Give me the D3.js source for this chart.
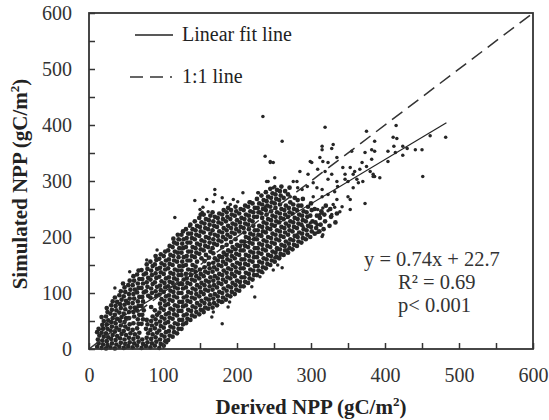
<!DOCTYPE html>
<html>
<head>
<meta charset="utf-8">
<script src="https://cdn.jsdelivr.net/npm/d3@7"></script>
<style>
  body { margin: 0; background: #fff; }
  svg text { font-family: "Liberation Serif", "Times New Roman", serif; }
</style>
</head>
<body>
<div id="chart"></div>
<script>
// axis ticks (major = labelled, every 100; minor every 50)
var tickValues = [0, 50, 100, 150, 200, 250, 300, 350, 400, 450, 500, 550, 600];
var labelValues = [0, 100, 200, 300, 400, 500, 600];

// legend + stats text
var legendLabels = ["Linear fit line", "1:1 line"];
var statsLines = ["y = 0.74x + 22.7", "R\u00b2 = 0.69", "p< 0.001"];

// fitted line and 1:1 line as drawn (end points, data units)
var fitLine = [[11, 31], [483, 404]];
var oneToOne = [[0, 0], [600, 600]];

// derived NPP (x) vs simulated NPP (y) - the dense cloud
var cloudSamples = [
  [11,4],[13,10],[12,17],[14,24],[11,30],[13,36],
  [17,2],[19,8],[18,15],[20,22],[17,29],[19,36],[18,43],[20,50],[17,57],
  [23,1],[25,7],[24,14],[26,21],[23,28],[25,36],[24,44],[26,51],[23,58],[25,66],[24,73],
  [29,3],[31,10],[30,18],[32,25],[29,33],[31,40],[30,48],[32,55],[29,63],[31,70],[30,78],[32,85],
  [35,1],[37,8],[36,16],[38,23],[35,31],[37,38],[36,46],[38,54],[35,61],[37,69],[36,77],[38,84],[35,92],
  [41,4],[43,11],[42,19],[44,27],[41,34],[43,42],[42,50],[44,57],[41,65],[43,73],[42,80],[44,88],[41,96],[43,103],
  [47,2],[49,9],[48,17],[50,25],[47,32],[49,40],[48,48],[50,55],[47,63],[49,71],[48,79],[50,86],[47,94],[49,102],[48,110],[46,117],
  [53,5],[55,12],[54,20],[56,28],[53,36],[55,44],[54,55],[54,66],[56,74],[53,82],[55,90],[54,98],[56,106],[53,114],[55,122],
  [59,3],[61,10],[60,18],[62,26],[59,34],[60,46],[61,58],[60,66],[62,74],[59,82],[61,90],[60,98],[62,106],[59,114],[61,122],[60,130],
  [65,6],[67,13],[66,21],[68,29],[65,37],[67,45],[66,53],[68,61],[65,69],[67,77],[66,85],[68,93],[65,101],[67,109],[66,117],[68,125],[65,133],[67,140],
  [71,2],[73,9],[72,17],[71,45],[73,53],[72,61],[74,69],[71,77],[73,85],[72,93],[74,101],[71,109],[73,117],[72,125],[74,133],[71,141],
  [77,5],[79,12],[78,20],[80,28],[77,36],[79,44],[78,52],[80,95],[77,103],[79,111],[78,119],[80,127],[77,135],[79,143],[78,151],
  [83,3],[85,10],[84,18],[86,26],[83,34],[85,42],[84,50],[86,58],[84,75],[83,92],[85,100],[84,108],[86,116],[83,124],[85,132],[84,140],[86,148],[83,156],
  [89,6],[91,13],[90,21],[92,29],[89,37],[91,45],[90,53],[92,61],[89,69],[91,95],[90,103],[92,111],[89,119],[91,127],[90,135],[92,143],[89,151],[91,159],[90,166],
  [95,2],[97,9],[96,17],[98,25],[95,33],[97,41],[96,49],[98,57],[95,65],[97,73],[96,81],[98,89],[95,97],[97,105],[96,113],[98,121],[95,129],[97,137],[96,145],[98,153],[95,161],[97,169],
  [101,6],[103,14],[102,22],[104,30],[101,38],[103,46],[102,54],[104,62],[101,70],[103,78],[102,86],[104,94],[101,102],[103,110],[102,118],[104,126],[101,134],[103,142],[102,150],[104,158],[101,166],[103,174],
  [107,16],[109,24],[108,32],[110,40],[107,48],[109,56],[108,64],[110,72],[107,80],[109,88],[108,96],[110,104],[107,112],[109,120],[108,128],[110,136],[107,144],[109,152],[108,160],[110,168],[107,176],[109,184],
  [113,22],[115,30],[114,38],[116,46],[113,54],[115,62],[114,70],[116,78],[113,86],[115,94],[114,102],[116,110],[113,118],[115,126],[114,134],[116,142],[113,150],[115,158],[114,166],[116,174],[113,182],[115,190],[114,197],
  [119,28],[121,36],[120,44],[122,52],[119,60],[121,68],[120,76],[122,84],[119,92],[121,100],[120,108],[122,116],[119,124],[121,132],[120,140],[122,148],[119,156],[121,164],[120,172],[122,180],[119,188],[121,196],[120,204],
  [125,36],[127,44],[126,52],[128,60],[125,68],[127,76],[126,84],[128,92],[125,100],[127,108],[126,116],[128,124],[125,132],[125,140],[127,148],[126,156],[128,164],[125,172],[127,180],[126,188],[128,196],[125,204],[127,210],
  [131,46],[133,54],[132,62],[134,70],[131,78],[133,86],[132,94],[134,102],[131,110],[133,118],[132,126],[131,134],[134,142],[131,150],[133,158],[132,166],[134,174],[131,182],[133,190],[132,198],[134,206],[131,214],
  [137,52],[139,60],[138,68],[140,76],[137,84],[139,92],[138,100],[140,108],[137,116],[139,124],[138,132],[139,141],[140,150],[137,158],[139,166],[138,174],[140,182],[137,190],[139,198],[138,206],[140,214],[137,222],
  [143,58],[145,66],[144,74],[146,82],[143,90],[145,98],[144,106],[146,114],[143,122],[145,130],[144,138],[144,147],[146,156],[143,164],[145,172],[144,180],[146,188],[143,196],[145,204],[144,212],[146,220],[143,228],
  [149,62],[151,70],[150,78],[152,86],[149,94],[151,102],[150,110],[152,118],[149,126],[151,134],[150,142],[152,162],[149,170],[151,178],[150,186],[152,194],[149,202],[151,210],[150,218],[152,226],[149,234],[151,240],
  [155,66],[157,74],[156,82],[158,90],[155,98],[157,106],[156,114],[158,122],[155,130],[157,138],[156,146],[156,157],[158,168],[155,176],[157,184],[156,192],[158,200],[155,208],[157,216],[156,224],[158,232],[155,240],
  [161,72],[163,80],[162,88],[164,96],[161,104],[163,112],[162,120],[164,128],[161,136],[163,144],[162,152],[162,163],[164,174],[161,182],[163,190],[162,198],[164,206],[161,214],[163,222],[162,230],[164,238],
  [167,74],[169,82],[168,90],[170,98],[167,106],[169,114],[168,122],[170,130],[167,138],[169,146],[168,154],[170,162],[168,171],[167,180],[169,188],[168,196],[170,204],[167,212],[169,220],[168,228],[170,236],[167,244],
  [173,78],[175,86],[174,94],[176,102],[173,110],[175,118],[174,126],[176,134],[173,142],[175,150],[174,158],[176,166],[173,186],[175,194],[174,202],[176,210],[173,218],[175,226],[174,234],[176,242],
  [179,84],[181,92],[180,100],[182,108],[179,116],[181,124],[180,132],[182,140],[179,148],[181,156],[180,164],[182,172],[180,182],[179,192],[181,200],[180,208],[182,216],[179,224],[181,232],[180,240],[182,248],
  [185,88],[187,96],[186,104],[188,112],[185,120],[187,128],[186,136],[188,144],[185,152],[187,160],[186,168],[188,176],[186,186],[185,196],[187,204],[186,212],[188,220],[185,228],[187,236],[186,244],[188,252],
  [191,94],[193,102],[192,110],[194,118],[191,126],[193,134],[192,142],[194,150],[191,158],[193,166],[192,174],[194,182],[192,191],[191,200],[193,208],[192,216],[194,224],[191,232],[193,240],[192,248],
  [197,98],[199,106],[198,114],[200,122],[197,130],[199,138],[198,146],[200,154],[197,162],[199,170],[198,178],[200,186],[198,196],[197,206],[199,214],[198,222],[200,230],[197,238],[199,246],[198,254],
  [203,104],[205,112],[204,120],[206,128],[203,136],[205,144],[204,152],[206,160],[203,168],[205,176],[204,184],[206,192],[203,210],[205,218],[204,226],[206,234],[203,242],[205,250],
  [209,112],[211,120],[210,128],[212,136],[209,144],[211,152],[210,160],[212,168],[209,176],[211,184],[210,192],[212,200],[210,208],[209,216],[211,224],[210,232],[212,240],[209,248],[211,256],
  [215,118],[217,126],[216,134],[218,142],[215,150],[217,158],[216,166],[218,174],[215,182],[217,190],[216,198],[218,206],[216,214],[215,222],[217,230],[216,238],[218,246],[215,254],[217,262],
  [221,124],[223,132],[222,140],[224,148],[221,156],[223,164],[222,172],[224,180],[221,188],[223,196],[222,204],[224,212],[222,220],[221,228],[223,236],[222,244],[224,252],[221,260],
  [227,132],[229,140],[228,148],[230,156],[227,164],[229,172],[228,180],[230,188],[227,196],[229,204],[228,212],[230,220],[227,236],[229,244],[228,252],[230,260],[227,268],
  [233,138],[235,146],[234,154],[236,162],[233,170],[235,178],[234,186],[236,194],[233,202],[235,210],[234,218],[236,226],[234,234],[233,242],[235,250],[234,258],[236,266],[233,274],
  [239,144],[241,152],[240,160],[242,168],[239,176],[241,184],[240,192],[242,200],[239,208],[241,216],[240,224],[242,232],[240,240],[239,248],[241,256],[240,264],[242,272],[239,280],
  [245,150],[247,158],[246,166],[248,174],[245,182],[247,190],[246,198],[248,206],[245,214],[247,222],[246,230],[248,238],[246,246],[245,254],[247,262],[246,270],[248,278],[245,286],
  [251,156],[253,164],[252,172],[254,180],[251,188],[253,196],[252,204],[254,212],[251,220],[253,228],[252,236],[254,244],[252,252],[251,260],[253,268],[252,276],[254,284],
  [257,162],[259,170],[258,178],[260,186],[257,194],[259,202],[258,210],[260,218],[257,226],[259,234],[258,242],[260,250],[258,258],[257,266],[259,274],[258,282],[260,290],
  [263,168],[265,176],[264,184],[266,192],[263,200],[265,208],[264,216],[266,224],[263,232],[265,240],[264,248],[266,256],[263,270],[265,282],
  [269,172],[271,180],[270,188],[272,196],[269,204],[271,212],[270,220],[272,228],[269,236],[271,244],[270,252],[272,262],[269,276],[271,288],
  [275,178],[277,186],[276,194],[278,202],[275,210],[277,218],[276,226],[278,234],[275,242],[277,250],[276,258],[278,270],
  [281,184],[283,192],[282,200],[284,208],[281,216],[283,224],[282,232],[284,240],[281,248],[283,256],[282,266],
  [287,190],[289,198],[288,206],[290,214],[287,222],[289,230],[288,238],[290,246],[287,256],[289,268],
  [293,196],[295,204],[294,212],[296,220],[293,228],[295,236],[294,244],[296,254],
  [299,200],[301,210],[300,218],[302,228],[299,238],[301,248],[300,260],
  [305,206],[307,216],[306,226],[308,238],[305,250],
  [311,210],[313,222],[312,234],[314,246],
  [317,214],[319,228],[318,240],[320,256],
  [325,220],[327,236],[326,250],
  [333,226],[335,242]
];

// scattered points around and above the cloud
var scatterSamples = [
  [35,109],[55,138],[78,159],[92,177],[116,235],[123,195],[136,219],[150,249],[159,267],
  [143,265],[154,253],[161,245],[153,244],[168,263],[170,285],[170,276],[180,270],[184,261],[195,267],
  [201,263],[218,263],[191,258],[208,279],[228,279],[242,299],[251,290],[238,344],[245,333],[220,245],
  [231,245],[238,254],[229,279],[240,299],[249,333],
  [180,45],[224,93],[231,129],[220,111],[181,84],[168,66],[166,57],[190,84],[188,75],[132,48],[105,11],
  [154,70],[204,118],[235,136],[254,165],
  [373,260],[353,249],[339,245],[328,240],[316,252],[315,243],[312,210],[316,204],[309,222],[268,177],
  [258,165],[255,150],[261,145],[335,267],[330,258],[342,254],[323,247],[309,249],[312,240],[328,237],
  [299,225],[308,222],[289,219],[309,208],[315,201],[281,204],[272,195],[265,183],[254,177],[251,163],
  [249,141],[353,267],[332,253],
  [235,415],[319,396],[261,371],[315,362],[315,356],[330,365],[328,358],[375,389],[355,353],[299,335],
  [301,333],[312,342],[316,335],[323,333],[335,342],[373,351],[382,356],[369,333],[375,326],[245,335],
  [285,317],[296,312],[309,321],[319,317],[328,312],[343,324],[353,324],[359,317],[366,321],[346,312],
  [357,312],[380,317],[384,308],[251,306],[249,288],[276,299],[281,299],[282,288],[288,285],[295,290],
  [303,297],[308,288],[315,285],[323,303],[335,299],[336,290],[346,303],[350,299],[362,303],[364,297],
  [370,299],[258,281],[265,281],[272,272],[303,272],[315,272],[323,276],[332,281],[357,288],[350,272],
  [415,399],[386,371],[386,353],[411,378],[416,376],[412,362],[424,362],[430,358],[404,353],[414,351],
  [441,356],[450,356],[424,346],[461,381],[482,378],[382,339],[404,335],[384,312],[386,308],[393,306],
  [451,308]
];

var width = 549, height = 420;

var svg = d3.select("#chart").append("svg")
    .attr("width", width)
    .attr("height", height);

var x = d3.scaleLinear().domain([0, 600]).range([89, 533]);
var y = d3.scaleLinear().domain([0, 600]).range([349, 13]);

var fmt = function (d) { return labelValues.indexOf(d) >= 0 ? d : ""; };

// points first, then lines, then frame on top
function drawPoints(data, r) {
    svg.append("g").selectAll("circle")
        .data(data)
        .enter()
        .append("circle")
        .attr("cx", function (d) { return x(d[0]); })
        .attr("cy", function (d) { return y(d[1]); })
        .attr("r", r)
        .attr("fill", "#262626");
}
drawPoints(cloudSamples, 2.35);
drawPoints(scatterSamples, 1.75);

var line = d3.line()
    .x(function (d) { return x(d[0]); })
    .y(function (d) { return y(d[1]); });

svg.append("path")
    .attr("d", line(fitLine))
    .attr("fill", "none")
    .attr("stroke", "#222")
    .attr("stroke-width", 1.2);

svg.append("path")
    .attr("d", line(oneToOne))
    .attr("fill", "none")
    .attr("stroke", "#333")
    .attr("stroke-width", 1.5)
    .attr("stroke-dasharray", "13,7");

// axes with inside ticks
var xAxis = svg.append("g")
    .attr("transform", "translate(0,349)")
    .call(d3.axisBottom(x).tickValues(tickValues).tickSizeInner(-6).tickSizeOuter(0).tickPadding(19).tickFormat(fmt));
var yAxis = svg.append("g")
    .attr("transform", "translate(89,0)")
    .call(d3.axisLeft(y).tickValues(tickValues).tickSizeInner(-6).tickSizeOuter(0).tickPadding(17).tickFormat(fmt));

[xAxis, yAxis].forEach(function (g) {
    g.select(".domain").remove();
    g.selectAll("line").attr("stroke", "#333").attr("stroke-width", 1.5);
    g.selectAll("text")
        .attr("font-family", "Liberation Serif, serif")
        .attr("font-size", "20px")
        .attr("fill", "#333");
});

svg.append("rect")
    .attr("x", 89).attr("y", 13)
    .attr("width", 444).attr("height", 336)
    .attr("fill", "none")
    .attr("stroke", "#333")
    .attr("stroke-width", 1.8);

// legend
svg.append("line")
    .attr("x1", 135).attr("x2", 173).attr("y1", 35).attr("y2", 35)
    .attr("stroke", "#222").attr("stroke-width", 1.3);
svg.append("line")
    .attr("x1", 130).attr("x2", 172).attr("y1", 77).attr("y2", 77)
    .attr("stroke", "#333").attr("stroke-width", 1.6)
    .attr("stroke-dasharray", "13,7");

svg.selectAll(".legend")
    .data(legendLabels)
    .enter()
    .append("text")
    .attr("x", 182)
    .attr("y", function (d, i) { return 41 + i * 42; })
    .attr("font-size", "20px")
    .attr("fill", "#222")
    .text(function (d) { return d; });

// regression stats
svg.selectAll(".stats")
    .data(statsLines)
    .enter()
    .append("text")
    .attr("x", function (d, i) { return i === 0 ? 364 : 398; })
    .attr("y", function (d, i) { return 266 + i * 23; })
    .attr("font-size", "20.5px")
    .attr("fill", "#333")
    .text(function (d) { return d; });

// axis titles
var xt = svg.append("text")
    .attr("x", 311).attr("y", 414)
    .attr("text-anchor", "middle")
    .attr("font-size", "21px")
    .attr("font-weight", "bold")
    .attr("fill", "#222");
xt.append("tspan").text("Derived  NPP (gC/m");
xt.append("tspan").attr("font-size", "13px").attr("dy", -8).text("2");
xt.append("tspan").attr("dy", 8).text(")");

var yt = svg.append("text")
    .attr("transform", "translate(27,184) rotate(-90)")
    .attr("text-anchor", "middle")
    .attr("font-size", "21px")
    .attr("font-weight", "bold")
    .attr("fill", "#222");
yt.append("tspan").text("Simulated NPP (gC/m");
yt.append("tspan").attr("font-size", "13px").attr("dy", -8).text("2");
yt.append("tspan").attr("dy", 8).text(")");
</script>
</body>
</html>
